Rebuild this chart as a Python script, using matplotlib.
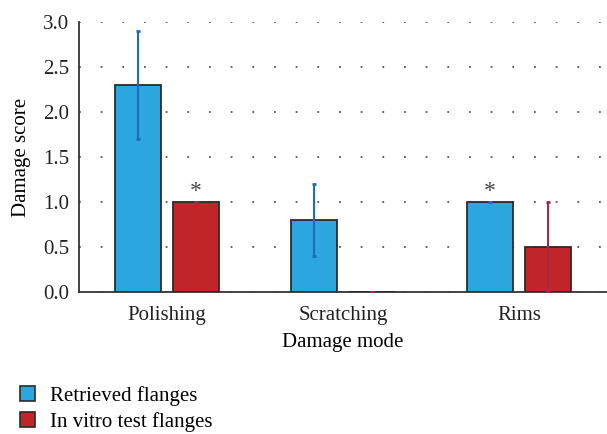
import matplotlib
matplotlib.use("Agg")
import matplotlib.pyplot as plt
import numpy as np
from matplotlib.patches import Patch

categories = ["Polishing", "Scratching", "Rims"]
retrieved = [2.3, 0.8, 1.0]
retrieved_err = [0.6, 0.4, 0.0]
invitro = [1.0, 0.0, 0.5]
invitro_err = [0.0, 0.0, 0.5]
series_names = ["Retrieved flanges", "In vitro test flanges"]
yticks = [0.0, 0.5, 1.0, 1.5, 2.0, 2.5, 3.0]

plt.rcParams['font.family'] = ['Liberation Serif', 'DejaVu Serif']
FS = 15

fig = plt.figure(figsize=(6.07, 4.34), dpi=100)
ax = fig.add_axes([79/607, 1 - 292/434, 1 - 79/607, 270/434])

x = np.arange(len(categories))
w = 0.26
off = 0.165
blue = "#2ba6de"
red = "#c22527"
edge = "#2b2b2b"

ax.bar(x - off, retrieved, w, color=blue, edgecolor=edge, linewidth=1.3, zorder=3)
ax.bar(x + off, invitro, w, color=red, edgecolor=edge, linewidth=1.3, zorder=3)
ax.errorbar(x - off, retrieved, yerr=retrieved_err, fmt='none', ecolor="#1f6db5",
            elinewidth=1.5, capsize=1.5, capthick=2, zorder=4)
ax.errorbar(x + off, invitro, yerr=invitro_err, fmt='none', ecolor="#a3284d",
            elinewidth=1.5, capsize=1.5, capthick=2, zorder=4)

# significance markers
ax.text(x[0] + off, invitro[0] + 0.0, "*", ha='center', va='bottom', fontsize=17, color="#444444")
ax.text(x[2] - off, retrieved[2] + 0.0, "*", ha='center', va='bottom', fontsize=17, color="#444444")

ax.set_xlim(-0.5, 2.5)
ax.set_ylim(0, 3.0)
ax.set_yticks(yticks)
ax.set_yticklabels([f"{v:.1f}" for v in yticks], fontsize=FS)
ax.set_xticks(x)
ax.set_xticklabels(categories, fontsize=FS)
ax.tick_params(axis='y', length=0, pad=7, colors="#222222")
ax.tick_params(axis='x', length=0, pad=10, colors="#222222")
ax.yaxis.grid(True, linestyle=(0, (1, 11)), color="#555555", linewidth=1.3)
ax.set_axisbelow(True)
for s in ["top", "right"]:
    ax.spines[s].set_visible(False)
for s in ["left", "bottom"]:
    ax.spines[s].set_color("#333333")
    ax.spines[s].set_linewidth(1.3)

ax.set_xlabel("Damage mode", fontsize=FS, labelpad=6)
ax.set_ylabel("Damage score", fontsize=FS, labelpad=9)

handles = [Patch(facecolor=blue, edgecolor=edge, linewidth=1.2),
           Patch(facecolor=red, edgecolor=edge, linewidth=1.2)]
fig.legend(handles, series_names, loc='upper left', bbox_to_anchor=(20/607, 1 - 386/434),
           frameon=False, fontsize=FS, handlelength=0.72, handleheight=0.72,
           handletextpad=0.72, labelspacing=0.3, borderaxespad=0, borderpad=0)

fig.savefig("out.png", dpi=100)
